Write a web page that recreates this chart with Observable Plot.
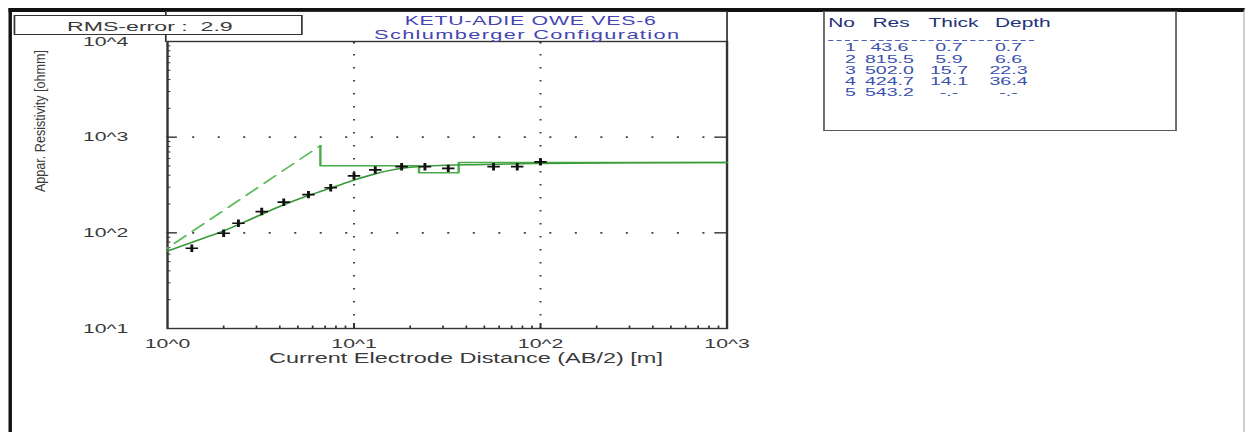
<!DOCTYPE html>
<html><head><meta charset="utf-8">
<script src="https://cdn.jsdelivr.net/npm/d3@7"></script>
<script src="https://cdn.jsdelivr.net/npm/@observablehq/plot@0.6"></script>
<style>
html,body{margin:0;padding:0;background:#fff;overflow:hidden;width:1250px;height:432px}
#stage{position:absolute;left:0;top:0;width:735px;height:432px;transform:scaleX(1.70068);transform-origin:0 0;font-family:"Liberation Sans",Arial,sans-serif}
.abs{position:absolute;white-space:pre;line-height:1}
</style></head><body>
<div id="stage">
  <div id="chart" class="abs" style="left:0;top:0"></div>
  <div id="outer" class="abs" style="left:5.2px;top:8px;width:727px;height:500px;border-left:2.3px solid #111;border-top:4px solid #111;border-right:0.8px solid #c8c8c8;box-sizing:border-box"></div>
  <div id="titlebox" class="abs" style="left:97.3px;top:11px;width:330.4px;height:30.5px;border:1.4px solid #333;border-bottom:none;box-sizing:border-box"></div>
  <div id="rmsbox" class="abs" style="left:7.6px;top:15px;width:170.6px;height:19.5px;border:1.3px solid #333;background:#fff;box-sizing:border-box"></div>
  <div id="tablebox" class="abs" style="left:484px;top:11px;width:208px;height:120px;border:1.6px solid #555;background:#fff;box-sizing:border-box"></div>
  <div id="dashline" class="abs" style="left:487px;top:40px;width:120.6px;height:0;border-top:1px dashed #5060b0"></div>
</div>
<script>
// ---------- data ----------
const rmsError = 2.9;
const titleLines = ["KETU-ADIE OWE VES-6", "Schlumberger Configuration"];
const xLabel = "Current Electrode Distance (AB/2) [m]";
const yLabel = "Appar. Resistivity [ohmm]";
const xMajor = [1, 10, 100, 1000];
const yMajor = [10, 100, 1000, 10000];

// observed field data (crosses)
const xObs = [1.35, 2.0, 2.4, 3.2, 4.2, 5.7, 7.5, 10, 13, 18, 24, 32, 56, 75, 100];
const yObs = [69, 99, 126, 167, 209, 251, 296, 393, 454, 491, 491, 471, 491, 491, 552];

// computed (fitted) sounding curve
const xCurve = [1, 1.41, 2, 2.82, 3.98, 5.62, 7.94, 10, 12.6, 15.8, 20, 25.1, 39.8, 100, 316, 1000];
const yCurve = [64.6, 82, 105, 140, 188, 243, 305, 355, 407, 452, 484, 501, 515, 531, 541, 543];

// layer model table
const tableHeader = ["No", "Res", "Thick", "Depth"];
const layerNo = [1, 2, 3, 4, 5];
const layerRes = [43.6, 815.5, 502.0, 424.7, 543.2];
const layerThick = [0.7, 5.9, 15.7, 14.1, null];
const layerDepth = [0.7, 6.6, 22.3, 36.4, null];

// ---------- build ----------
const W = 735, H = 432, mL = 98, mR = 308, mT = 41, mB = 104;
const plotW = W - mL - mR, plotH = H - mT - mB;
const xMax = xMajor[xMajor.length - 1];

const obs = xObs.map((x, i) => ({x, y: yObs[i]}));
const curve = xCurve.map((x, i) => ({x, y: yCurve[i]}));
const modelDiag = [{x: layerDepth[0], y: layerRes[0]}, {x: layerDepth[1], y: layerRes[1]}];
const modelSteps = [{x: layerDepth[1], y: layerRes[1]}];
for (let i = 2; i < layerRes.length; i++) {
  modelSteps.push({x: layerDepth[i - 1], y: layerRes[i]});
  modelSteps.push({x: i < layerRes.length - 1 ? layerDepth[i] : xMax, y: layerRes[i]});
}
const xMinor = d3.range(0, 3).flatMap(k => d3.range(2, 10).map(m => m * 10 ** k));
const yMinor = d3.range(1, 4).flatMap(k => d3.range(2, 10).map(m => m * 10 ** k));
const xGrid = xMajor.slice(1, -1), yGrid = yMajor.slice(1, -1);
const fmt = d => `10^${Math.round(Math.log10(d))}`;
const axisColor = "#333";

const chart = Plot.plot({
  width: W, height: H,
  marginLeft: mL, marginRight: mR, marginTop: mT, marginBottom: mB,
  style: {fontFamily: "'Liberation Sans', Arial, sans-serif", fontSize: "12.5px", background: "none", overflow: "visible", color: axisColor},
  x: {type: "log", domain: [xMajor[0], xMax]},
  y: {type: "log", domain: [yMajor[0], yMajor[yMajor.length - 1]]},
  marks: [
    Plot.ruleX(xGrid, {stroke: "#444", strokeWidth: 1.2, strokeDasharray: "1.5 11.5"}),
    Plot.ruleY(yGrid, {stroke: "#444", strokeWidth: 1.8, strokeDasharray: "1.2 13.8"}),
    Plot.tickY(yMinor, {y: d => d, insetRight: plotW - 2.2, stroke: axisColor, strokeWidth: 1}),
    Plot.tickY(yGrid, {y: d => d, insetRight: plotW - 6, stroke: axisColor, strokeWidth: 1.4}),
    Plot.tickY(yGrid, {y: d => d, insetLeft: plotW - 7, stroke: axisColor, strokeWidth: 1.4}),
    Plot.tickX(xMinor, {x: d => d, insetTop: plotH - 2.5, stroke: axisColor, strokeWidth: 1}),
    Plot.tickX(xGrid, {x: d => d, insetTop: plotH - 5, stroke: axisColor, strokeWidth: 1.2}),
    Plot.tickX(xGrid, {x: d => d, insetBottom: plotH - 2.5, stroke: axisColor, strokeWidth: 1.2}),
    Plot.frame({stroke: axisColor, strokeWidth: 1.4}),
    Plot.axisX({ticks: xMajor, tickSize: 0, tickPadding: 11, tickFormat: fmt, label: null, fontSize: 12.5, fill: "#3a3a3a"}),
    Plot.axisY({ticks: yMajor, tickSize: 0, tickPadding: 23, tickFormat: fmt, label: null, fontSize: 12.5, fill: "#3a3a3a"}),
    Plot.line(modelDiag, {x: "x", y: "y", stroke: "#5cbc5c", strokeWidth: 1.4, strokeDasharray: "10 6", clip: true}),
    Plot.line(modelSteps, {x: "x", y: "y", stroke: "#4aaa4a", strokeWidth: 1.4, clip: true}),
    Plot.line(curve, {x: "x", y: "y", stroke: "#3a9a3a", strokeWidth: 1.5, curve: "monotone-x"}),
    Plot.dot(obs, {x: "x", y: "y", symbol: "plus", r: 2.5, stroke: "#111", strokeWidth: 1.7}),
    Plot.text([xLabel], {frameAnchor: "bottom", dy: 34, dx: 11, fontSize: 13.8, fill: "#3a3a3a"})
  ]
});
document.getElementById("chart").appendChild(chart);

const stage = document.getElementById("stage");
function place(text, x, base, {size = 12, color = "#333", anchor = "start", spacing = 0} = {}) {
  const el = document.createElement("div");
  el.className = "abs";
  el.textContent = text;
  el.style.fontSize = size + "px";
  el.style.color = color;
  el.style.letterSpacing = spacing + "px";
  el.style.top = (base - 0.85 * size) + "px";
  el.style.left = x + "px";
  if (anchor === "middle") el.style.transform = "translateX(-50%)";
  stage.appendChild(el);
  return el;
}
// title
place(titleLines[0], 312, 26, {size: 12.5, color: "#4545b2", anchor: "middle", spacing: 0.45});
place(titleLines[1], 310, 40, {size: 12.8, color: "#4545b2", anchor: "middle", spacing: 0.8});
// RMS
place(`RMS-error :  ${rmsError.toFixed(1)}`, 39.4, 31.5, {size: 13.6, color: "#3a3a3a"});
// y label (rotated, condensed)
const yl = document.createElement("div");
yl.className = "abs";
yl.textContent = yLabel;
yl.style.fontSize = "12.6px";
yl.style.color = "#3a3a3a";
yl.style.left = "24px";
yl.style.top = "121px";
yl.style.transform = "translate(-50%,-50%) rotate(-90deg) scaleY(0.65)";
stage.appendChild(yl);
// table
const headX = [487, 513, 546, 585];
tableHeader.forEach((t, i) => place(t, headX[i], 27, {size: 12.3, color: "#22307a"}));
const colC = [500, 523, 558, 593];
const rowBase = [52, 63.3, 74.6, 85.9, 97.2];
const cell = v => v == null ? "-.-" : v.toFixed(1);
layerNo.forEach((n, i) => {
  const vals = [String(n), cell(layerRes[i]), cell(layerThick[i]), cell(layerDepth[i])];
  vals.forEach((v, j) => place(v, colC[j], rowBase[i], {size: 11.5, color: "#3a50b0", anchor: "middle"}));
});
</script>
</body></html>
